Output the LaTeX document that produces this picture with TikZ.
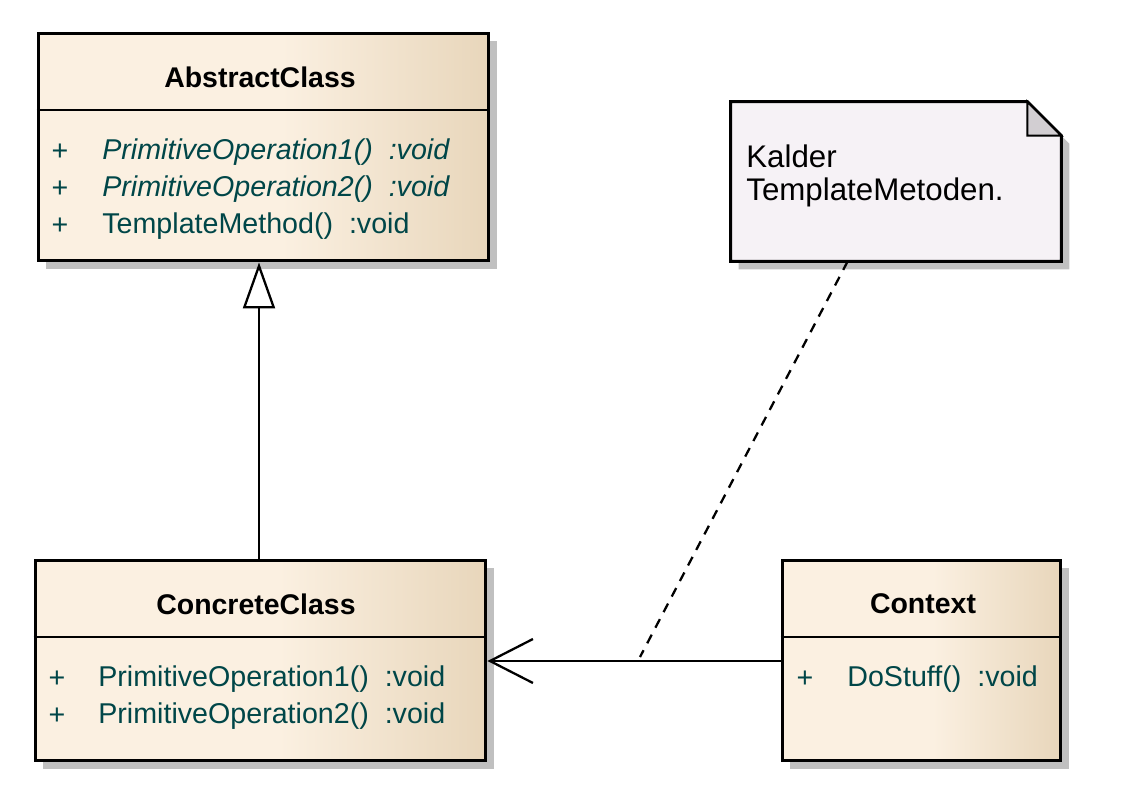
\documentclass[tikz,border=0pt]{standalone}
\usepackage{fontspec}
\setmainfont{Liberation Sans}
\usetikzlibrary{arrows.meta,shadows,calc}

\definecolor{classlight}{RGB}{251,240,225}
\definecolor{classdark}{RGB}{232,214,187}
\definecolor{notefill}{RGB}{246,242,246}
\definecolor{foldfill}{RGB}{210,206,210}
\definecolor{shadowgray}{RGB}{192,192,192}
\definecolor{optext}{RGB}{0,70,72}

\pgfdeclarehorizontalshading{classshade}{100bp}{color(0bp)=(classlight); color(25bp)=(classlight); color(52bp)=(classlight); color(75bp)=(classdark); color(100bp)=(classdark)}

\begin{document}
\begin{tikzpicture}[x=0.02cm,y=-0.02cm]
        \tikzset{umlclass/.style={draw,line width=1.7pt,shading=classshade,
                general shadow={fill=shadowgray,shadow xshift=0.16cm,shadow yshift=-0.16cm},
                minimum width=9.02cm,minimum height=4.02cm,inner sep=0pt},
            separator/.style={line width=1.2pt},
            classname/.style={font=\fontsize{16.2}{19}\selectfont\bfseries,inner sep=0pt},
            operation/.style={font=\fontsize{16.3}{19}\selectfont,text=optext,anchor=west,inner sep=0pt},
            visibility/.style={font=\fontsize{16.3}{19}\selectfont,text=optext,inner sep=0pt},
            notebox/.style={draw,line width=1.7pt,fill=notefill},
            notefold/.style={draw,line width=1.2pt,fill=foldfill},
            notetext/.style={font=\fontsize{17.8}{18.7}\selectfont,align=left,anchor=west,inner sep=0pt},
            inherit/.style={line width=1.3pt,-{Triangle[open,length=0.92cm,width=0.64cm,fill=white]}},
            assoc/.style={line width=1.3pt,-{Straight Barb[length=0.86cm,width=0.88cm]}},
            notelink/.style={line width=1.3pt,dash pattern=on 5.5pt off 4.5pt}}
        \useasboundingbox (0,0) rectangle (1145,793);
        % classes
        \node[umlclass,minimum height=4.56cm] (abstract) at (263.5,147) {};
        \draw[separator] (abstract.west |- 0,110) -- (abstract.east |- 0,110);
        \node[classname] (abstract-name) at (260,77) {AbstractClass};
        \node[visibility] (abstract-v1) at (60,152) {+};
        \node[visibility] (abstract-v2) at (60,189) {+};
        \node[visibility] (abstract-v3) at (60,226) {+};
        \node[operation] (abstract-op1) at (102,152) {\itshape PrimitiveOperation1()\ \ :void};
        \node[operation] (abstract-op2) at (102,189) {\itshape PrimitiveOperation2()\ \ :void};
        \node[operation] (abstract-op3) at (102,226) {TemplateMethod()\ \ :void};

        \node[umlclass] (concrete) at (260.5,660.5) {};
        \draw[separator] (concrete.west |- 0,637) -- (concrete.east |- 0,637);
        \node[classname] (concrete-name) at (256,604) {ConcreteClass};
        \node[visibility] (concrete-v1) at (57,679) {+};
        \node[visibility] (concrete-v2) at (57,716) {+};
        \node[operation] (concrete-op1) at (98,679) {PrimitiveOperation1()\ \ :void};
        \node[operation] (concrete-op2) at (98,716) {PrimitiveOperation2()\ \ :void};

        \node[umlclass,minimum width=5.58cm] (context) at (921.5,660.5) {};
        \draw[separator] (context.west |- 0,637) -- (context.east |- 0,637);
        \node[classname] (context-name) at (923,604) {Context};
        \node[visibility] (context-v1) at (805,679) {+};
        \node[operation] (context-op1) at (847,679) {DoStuff()\ \ :void};

        % note
        \node[minimum width=6.6cm,minimum height=3.18cm,inner sep=0pt] (note) at (896,181.5) {};
        \coordinate (fold-a) at ($(note.north east)+(-34,0)$);
        \coordinate (fold-b) at ($(note.north east)+(0,34)$);
        \fill[shadowgray,transform canvas={xshift=0.16cm,yshift=-0.16cm}]
            (note.north west) -- (fold-a) -- (fold-b) -- (note.south east) -- (note.south west) -- cycle;
        \path[notebox] (note.north west) -- (fold-a) -- (fold-b) -- (note.south east) -- (note.south west) -- cycle;
        \path[notefold] (fold-a) -- (fold-a |- fold-b) -- (fold-b) -- cycle;
        \node[notetext] (note-text) at (746,176) {Kalder\\TemplateMetoden.};

        % connectors
        \draw[inherit] (concrete.north -| 259,0) -- (abstract.south -| 259,0);
        \draw[assoc] (context.west |- 0,661) -- (concrete.east |- 0,661);
        \coordinate (link-end) at (640,657);
        \draw[notelink] ($(note.south west)+(117,0)$) -- (link-end);
    \end{tikzpicture}
\end{document}
